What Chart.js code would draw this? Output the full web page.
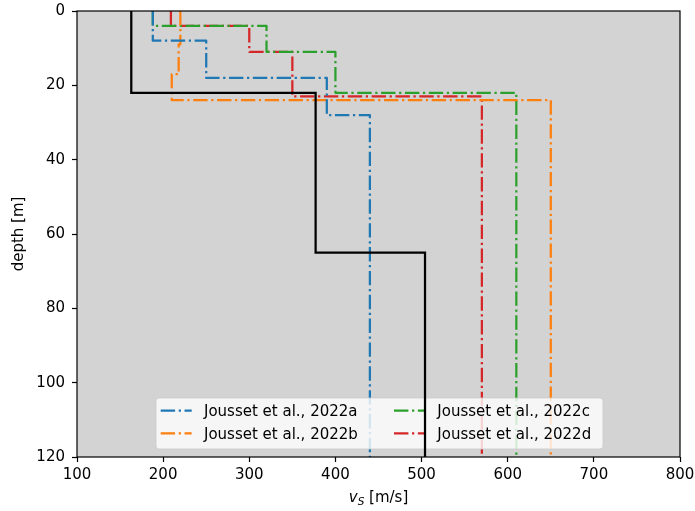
<!DOCTYPE html>
<html>
<head>
<meta charset="utf-8">
<script src="https://cdn.jsdelivr.net/npm/chart.js@4.4.1/dist/chart.umd.min.js"></script>
<style>
  html, body { margin: 0; padding: 0; background: #ffffff; }
  #wrap { width: 695px; height: 511px; }
</style>
</head>
<body>
<div id="wrap"><canvas id="c" width="695" height="511"></canvas></div>
<script>
// Shear-wave velocity profiles: each model is a list of layer velocities
// and the depth of each layer's top; the last layer runs to the bottom.
const depthMax = 120;

const refVs   = [163, 377, 504];
const refTops = [0, 22, 65];

const aVs   = [188, 250, 390, 440];
const aTops = [0, 8, 18, 28];

const bVs   = [220, 218, 210, 650];
const bTops = [0, 9, 17, 24];

const cVs   = [188, 320, 400, 610];
const cTops = [0, 4, 11, 22];

const dVs   = [209, 300, 350, 570];
const dTops = [0, 4, 11, 23];

const seriesLabels = ['Jousset et al., 2022a', 'Jousset et al., 2022b',
                      'Jousset et al., 2022c', 'Jousset et al., 2022d'];
const xTicks = [100, 200, 300, 400, 500, 600, 700, 800];
const yTicks = [0, 20, 40, 60, 80, 100, 120];

const BLUE = '#1f77b4', ORANGE = '#ff7f0e', GREEN = '#2ca02c', RED = '#d62728';
const DASHDOT = [14.4, 3.6, 2.25, 3.6];
const FONT = 'DejaVu Sans';

// Turn layered model into step-line points (x = velocity, y = depth).
function profile(vs, tops) {
  const pts = [];
  for (let i = 0; i < vs.length; i++) {
    const bottom = i + 1 < tops.length ? tops[i + 1] : depthMax;
    pts.push({ x: vs[i], y: tops[i] });
    pts.push({ x: vs[i], y: bottom });
  }
  return pts;
}

function modelSet(label, vs, tops, color) {
  return {
    label, data: profile(vs, tops), borderColor: color, backgroundColor: color,
    borderWidth: 2.25, borderDash: DASHDOT, showLine: true, pointRadius: 0,
    fill: false, tension: 0, borderCapStyle: 'butt', borderJoinStyle: 'round'
  };
}

const datasets = [
  { label: 'reference', data: profile(refVs, refTops), borderColor: '#000000',
    backgroundColor: '#000000', borderWidth: 2.25, showLine: true, pointRadius: 0,
    fill: false, tension: 0 },
  modelSet(seriesLabels[0], aVs, aTops, BLUE),
  modelSet(seriesLabels[1], bVs, bTops, ORANGE),
  modelSet(seriesLabels[2], cVs, cTops, GREEN),
  modelSet(seriesLabels[3], dVs, dTops, RED)
];

const legendItems = [
  { text: seriesLabels[0], color: BLUE,   col: 0, row: 0 },
  { text: seriesLabels[2], color: GREEN,  col: 1, row: 0 },
  { text: seriesLabels[1], color: ORANGE, col: 0, row: 1 },
  { text: seriesLabels[3], color: RED,    col: 1, row: 1 }
];

function roundRect(ctx, x, y, w, h, r) {
  ctx.beginPath();
  ctx.moveTo(x + r, y);
  ctx.lineTo(x + w - r, y);
  ctx.arcTo(x + w, y, x + w, y + r, r);
  ctx.lineTo(x + w, y + h - r);
  ctx.arcTo(x + w, y + h, x + w - r, y + h, r);
  ctx.lineTo(x + r, y + h);
  ctx.arcTo(x, y + h, x, y + h - r, r);
  ctx.lineTo(x, y + r);
  ctx.arcTo(x, y, x + r, y, r);
  ctx.closePath();
}

const decor = {
  id: 'decor',
  beforeDatasetsDraw(chart) {
    const { ctx, chartArea: a } = chart;
    ctx.save();
    ctx.fillStyle = '#d3d3d3';
    ctx.fillRect(a.left, a.top, a.right - a.left, a.bottom - a.top);
    ctx.restore();
  },
  // legend sits above the model curves but below the reference profile
  afterDatasetDraw(chart, args) {
    if (args.index !== 1) return;
    const ctx = chart.ctx;
    ctx.save();
    roundRect(ctx, 156, 398, 447, 51, 3);
    ctx.fillStyle = 'rgba(255,255,255,0.8)';
    ctx.fill();
    ctx.strokeStyle = 'rgba(204,204,204,0.8)';
    ctx.lineWidth = 1;
    ctx.stroke();
    const colX = [160.7, 394];
    const rowY = [410.7, 433.3];
    ctx.font = '15px "' + FONT + '"';
    ctx.textBaseline = 'alphabetic';
    ctx.textAlign = 'left';
    legendItems.forEach(it => {
      const x0 = colX[it.col], y = rowY[it.row];
      ctx.beginPath();
      ctx.setLineDash(DASHDOT);
      ctx.lineDashOffset = 0;
      ctx.strokeStyle = it.color;
      ctx.lineWidth = 2.25;
      ctx.moveTo(x0, y);
      ctx.lineTo(x0 + 31, y);
      ctx.stroke();
      ctx.setLineDash([]);
      ctx.fillStyle = '#000000';
      ctx.fillText(it.text, x0 + 43.3, y + 5.5);
    });
    ctx.restore();
  },
  afterDraw(chart) {
    const { ctx, chartArea: a } = chart;
    ctx.save();
    ctx.strokeStyle = '#000000';
    ctx.lineWidth = 1.2;
    ctx.strokeRect(a.left, a.top, a.right - a.left, a.bottom - a.top);

    // y axis title
    ctx.fillStyle = '#000000';
    ctx.font = '15px "' + FONT + '"';
    ctx.textAlign = 'center';
    ctx.textBaseline = 'middle';
    ctx.save();
    ctx.translate(19, (a.top + a.bottom) / 2);
    ctx.rotate(-Math.PI / 2);
    ctx.fillText('depth [m]', 0, 0);
    ctx.restore();

    // x axis title: italic v with subscript S, then units
    const base = 502;
    ctx.textBaseline = 'alphabetic';
    ctx.textAlign = 'left';
    const fV = 'italic 15px "' + FONT + '"';
    const fS = 'italic 10.5px "' + FONT + '"';
    const fU = '15px "' + FONT + '"';
    ctx.font = fV; const wV = ctx.measureText('v').width;
    ctx.font = fS; const wS = ctx.measureText('S').width;
    ctx.font = fU; const wU = ctx.measureText(' [m/s]').width;
    let x = (a.left + a.right) / 2 - (wV + wS + wU) / 2;
    ctx.font = fV; ctx.fillText('v', x, base); x += wV;
    ctx.font = fS; ctx.fillText('S', x, base + 3); x += wS;
    ctx.font = fU; ctx.fillText(' [m/s]', x, base);
    ctx.restore();
  }
};

const tickFont = { family: FONT, size: 15 };

// keep the plot frame fixed: no extra room reserved for edge labels
function noEdgePadding(s) {
  s.paddingTop = 0; s.paddingBottom = 0; s.paddingLeft = 0; s.paddingRight = 0;
}

new Chart(document.getElementById('c'), {
  type: 'scatter',
  data: { datasets },
  options: {
    responsive: false,
    devicePixelRatio: 1,
    animation: false,
    layout: { padding: { top: 11, right: 15, left: 0, bottom: 0 } },
    plugins: { legend: { display: false }, tooltip: { enabled: false } },
    scales: {
      x: {
        type: 'linear', min: xTicks[0], max: xTicks[xTicks.length - 1],
        afterBuildTicks(s) { s.ticks = xTicks.map(v => ({ value: v })); },
        afterFit(s) { s.height = 54; noEdgePadding(s); },
        ticks: { font: tickFont, color: '#000000', padding: 4, maxRotation: 0, autoSkip: false },
        grid: { drawOnChartArea: false, drawTicks: true, tickLength: 5, tickWidth: 1.2, tickColor: '#000000' },
        border: { display: false }
      },
      y: {
        type: 'linear', reverse: true, min: yTicks[0], max: yTicks[yTicks.length - 1],
        afterBuildTicks(s) { s.ticks = yTicks.map(v => ({ value: v })); },
        afterFit(s) { s.width = 77; noEdgePadding(s); },
        ticks: { font: tickFont, color: '#000000', padding: 7, autoSkip: false },
        grid: { drawOnChartArea: false, drawTicks: true, tickLength: 5, tickWidth: 1.2, tickColor: '#000000' },
        border: { display: false }
      }
    }
  },
  plugins: [decor]
});
</script>
</body>
</html>
